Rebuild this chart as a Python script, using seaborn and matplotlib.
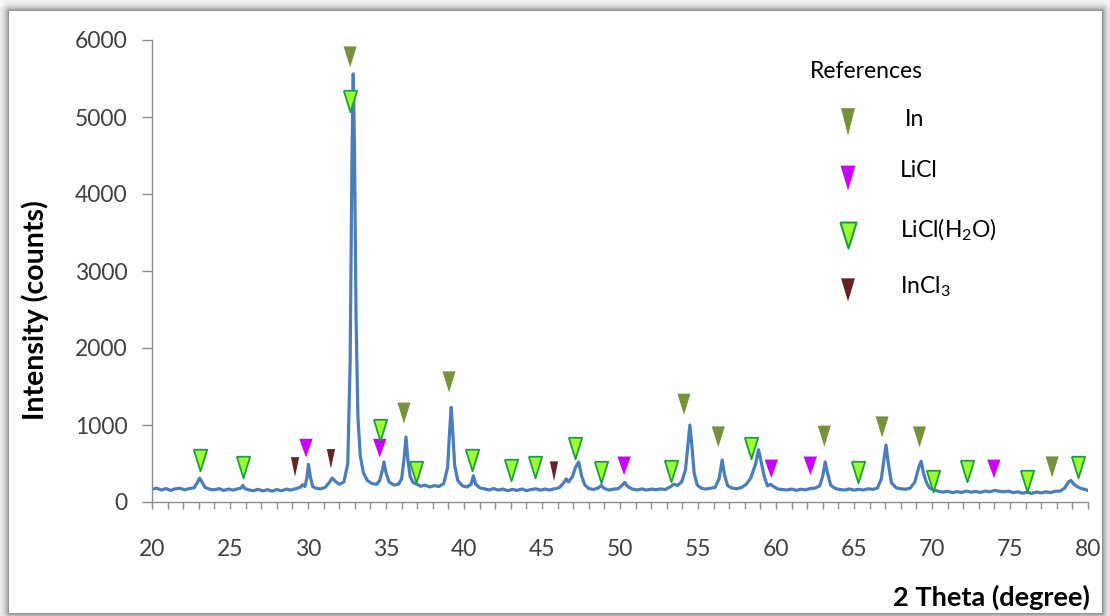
import numpy as np
import matplotlib
matplotlib.use("Agg")
import matplotlib.pyplot as plt
import seaborn as sns
from matplotlib.ticker import MultipleLocator

# ---------------- data ----------------
two_theta = [20.0, 20.3, 20.6, 20.9, 21.2, 21.5, 21.8, 22.1, 22.4, 22.7, 22.9, 23.05, 23.2, 23.4, 23.7,
             24.0, 24.3, 24.6, 24.9, 25.2, 25.5, 25.7, 25.82, 25.95, 26.2, 26.5, 26.8, 27.1, 27.4, 27.7,
             28.0, 28.3, 28.6, 28.9, 29.2, 29.5, 29.65, 29.8, 29.92, 30.03, 30.15, 30.3, 30.5, 30.8, 31.1,
             31.35, 31.55, 31.75, 32.0, 32.3, 32.55, 32.7, 32.82, 32.9, 32.98, 33.08, 33.2, 33.35, 33.55,
             33.8, 34.1, 34.4, 34.6, 34.75, 34.87, 35.0, 35.2, 35.5, 35.8, 36.0, 36.15, 36.28, 36.4, 36.55,
             36.75, 37.0, 37.2, 37.5, 37.8, 38.1, 38.4, 38.7, 38.95, 39.1, 39.18, 39.28, 39.4, 39.6, 39.9,
             40.2, 40.45, 40.6, 40.75, 41.0, 41.3, 41.6, 41.9, 42.2, 42.5, 42.8, 43.1, 43.4, 43.7, 44.0,
             44.3, 44.6, 44.9, 45.2, 45.5, 45.8, 46.1, 46.4, 46.55, 46.7, 46.95, 47.15, 47.35, 47.55, 47.75,
             48.0, 48.3, 48.6, 48.8, 49.0, 49.3, 49.6, 49.9, 50.15, 50.3, 50.5, 50.8, 51.1, 51.4, 51.7,
             52.0, 52.3, 52.6, 52.9, 53.2, 53.45, 53.7, 53.95, 54.2, 54.38, 54.48, 54.6, 54.75, 54.95, 55.2,
             55.5, 55.8, 56.1, 56.35, 56.55, 56.7, 56.9, 57.2, 57.5, 57.8, 58.1, 58.4, 58.7, 58.88, 59.05,
             59.25, 59.45, 59.65, 59.85, 60.1, 60.4, 60.7, 61.0, 61.3, 61.6, 61.9, 62.2, 62.5, 62.8, 63.0,
             63.15, 63.3, 63.5, 63.8, 64.1, 64.4, 64.7, 65.0, 65.3, 65.6, 65.9, 66.2, 66.5, 66.75, 66.95,
             67.05, 67.2, 67.4, 67.7, 68.0, 68.3, 68.6, 68.9, 69.15, 69.3, 69.45, 69.65, 69.85, 70.1, 70.4,
             70.7, 71.0, 71.3, 71.6, 71.9, 72.2, 72.5, 72.8, 73.1, 73.4, 73.7, 74.0, 74.3, 74.6, 74.9,
             75.2, 75.5, 75.8, 76.1, 76.4, 76.7, 77.0, 77.3, 77.6, 77.9, 78.2, 78.5, 78.75, 78.9, 79.1,
             79.3, 79.6, 79.8, 80.0]
intensity = [165, 180, 155, 175, 150, 172, 178, 158, 174, 185, 250, 310, 260, 190, 165,
             158, 174, 150, 168, 155, 172, 180, 215, 175, 158, 146, 165, 144, 160, 140,
             162, 146, 168, 155, 172, 190, 225, 200, 300, 490, 330, 200, 180, 170, 190,
             250, 310, 270, 230, 260, 500, 1800, 4500, 5560, 4600, 2400, 1100, 600, 380,
             280, 240, 230, 280, 400, 520, 380, 260, 220, 230, 300, 550, 845, 550, 330,
             250, 230, 205, 218, 196, 212, 202, 240, 450, 1000, 1230, 900, 480, 280, 210,
             195, 230, 340, 230, 185, 172, 156, 175, 154, 168, 146, 164, 150, 170, 148,
             162, 172, 154, 168, 156, 172, 185, 250, 300, 260, 330, 450, 520, 330, 220,
             175, 162, 182, 215, 175, 156, 168, 175, 220, 255, 200, 168, 156, 170, 154,
             168, 160, 170, 162, 195, 230, 215, 260, 420, 800, 1000, 750, 380, 220, 180,
             168, 178, 190, 300, 545, 350, 210, 180, 172, 190, 230, 320, 500, 680, 520,
             330, 210, 230, 200, 170, 162, 156, 168, 152, 166, 158, 175, 180, 210, 340,
             520, 380, 220, 175, 162, 156, 170, 154, 166, 156, 172, 164, 180, 300, 600,
             740, 500, 250, 185, 172, 166, 180, 260, 450, 530, 380, 250, 180, 160, 140,
             128, 140, 122, 134, 124, 142, 128, 136, 124, 142, 132, 150, 140, 132, 142,
             122, 132, 114, 126, 112, 130, 118, 132, 122, 140, 140, 180, 260, 280, 230,
             200, 172, 165, 150]

# reference-phase marker positions (2 theta, marker height in counts)
in_theta = [32.7, 36.15, 39.04, 54.1, 56.3, 63.1, 66.8, 69.2, 77.7]
in_level = [5780, 1155, 1560, 1270, 845, 855, 975, 845, 455]
licl_theta = [29.87, 34.6, 50.26, 59.7, 62.2, 73.97]
licl_level = [700, 700, 470, 430, 470, 430]
hydrate_theta = [23.08, 25.83, 32.7, 34.6, 36.92, 40.5, 43.0, 44.55, 47.1, 48.78, 53.27, 58.4,
                 65.26, 70.06, 72.24, 76.1, 79.36]
hydrate_level = [545, 455, 5210, 935, 390, 545, 415, 455, 700, 390, 400, 700,
                 390, 270, 400, 270, 455]
incl3_theta = [29.17, 31.47, 45.77]
incl3_level = [455, 560, 400]

legend_title = "References"
phase_labels = ["In", "LiCl", "LiCl(H$_2$O)", "InCl$_3$"]
x_label = "2 Theta (degree)"
y_label = "Intensity (counts)"

# ---------------- style ----------------
sns.set_style("white")
plt.rcParams["font.family"] = ["Lato", "DejaVu Sans"]
plt.rcParams["mathtext.default"] = "regular"

C_LINE = "#4A7EBB"
C_IN = "#76923C"
C_LICL = "#CC00FF"
C_HYD = "#99FF33"
C_HYD_EDGE = "#1E9E3A"
C_INCL3 = "#632523"
C_AXIS = "#8C8C8C"
C_TICKTXT = "#404040"


def tri(r):
    """downward triangle, width/height ratio r"""
    return [(-r / 2, 0.5), (r / 2, 0.5), (0.0, -0.5), (-r / 2, 0.5)]


W, H = 1110, 616
fig = plt.figure(figsize=(W / 100, H / 100), dpi=100)

# shadowed frame around the chart panel
yy, xx = np.mgrid[0:H, 0:W]
px0, px1, py0, py1 = 9, 1101, 11, 612
dx = np.maximum(np.maximum(px0 - xx, xx - px1), 0)
dy = np.maximum(np.maximum(py0 - yy, yy - py1), 0)
d = np.hypot(dx, dy)
g = np.where(d > 0, 1 - 0.42 * np.exp(-(d - 1) / 4.5), 1.0)
fig.figimage(np.dstack([g, g, g]), 0, 0, origin="upper", zorder=-10)

ax = fig.add_axes([152 / W, 114 / H, 936 / W, 462 / H])
ax.set_facecolor("none")

sns.lineplot(x=two_theta, y=intensity, ax=ax, color=C_LINE, linewidth=2.3,
             estimator=None, sort=False, zorder=2)

sns.scatterplot(x=in_theta, y=in_level, ax=ax, marker=tri(0.62), s=230,
                color=C_IN, edgecolor="none", zorder=4)
sns.scatterplot(x=licl_theta, y=licl_level, ax=ax, marker=tri(0.72), s=180,
                color=C_LICL, edgecolor="none", zorder=4)
sns.scatterplot(x=hydrate_theta, y=hydrate_level, ax=ax, marker=tri(0.62), s=240,
                color=C_HYD, edgecolor=C_HYD_EDGE, linewidth=1.3, zorder=4)
sns.scatterplot(x=incl3_theta, y=incl3_level, ax=ax, marker=tri(0.42), s=200,
                color=C_INCL3, edgecolor="none", zorder=4)

ax.set_xlim(20, 80)
ax.set_ylim(0, 6000)
ax.xaxis.set_major_locator(MultipleLocator(5))
ax.xaxis.set_minor_locator(MultipleLocator(1))
ax.yaxis.set_major_locator(MultipleLocator(1000))

for side in ["top", "right"]:
    ax.spines[side].set_visible(False)
for side in ["left", "bottom"]:
    ax.spines[side].set_color(C_AXIS)
    ax.spines[side].set_linewidth(1.0)

ax.tick_params(axis="x", which="both", direction="out", length=5, width=1,
               color=C_AXIS, bottom=True, pad=22, labelsize=16.5, labelcolor=C_TICKTXT)
ax.tick_params(axis="y", which="major", direction="out", length=7.2, width=1,
               color=C_AXIS, left=True, pad=10.5, labelsize=16.5, labelcolor=C_TICKTXT)

ax.set_ylabel(y_label, fontsize=20.5, fontweight="bold", color="black", va="center")
ax.yaxis.set_label_coords(-0.125, 0.415)
ax.set_xlabel(x_label, fontsize=19.5, fontweight="bold", color="black",
              ha="right", va="center")
ax.xaxis.set_label_coords(1.002, -0.2056)

# legend block (manual, as in the reference)
ax.text(0.703, 0.931, legend_title, transform=ax.transAxes, fontsize=16.5,
        ha="left", va="center", color="black")
leg_y_marker = [0.8225, 0.7013, 0.578, 0.459]
leg_y_text = [0.827, 0.7186, 0.589, 0.465]
leg_x_text = [0.8045, 0.799, 0.799, 0.799]
leg_style = [dict(marker=tri(0.5), s=400, c=C_IN, edgecolors="none"),
             dict(marker=tri(0.6), s=320, c=C_LICL, edgecolors="none"),
             dict(marker=tri(0.62), s=350, c=C_HYD, edgecolors=C_HYD_EDGE, linewidths=1.5),
             dict(marker=tri(0.6), s=280, c=C_INCL3, edgecolors="none")]
for lab, ym, yt, xt, st in zip(phase_labels, leg_y_marker, leg_y_text, leg_x_text, leg_style):
    ax.scatter([0.7436], [ym], transform=ax.transAxes, clip_on=False, zorder=5, **st)
    ax.text(xt, yt, lab, transform=ax.transAxes, fontsize=16.5, ha="left",
            va="center", color="black")

fig.savefig("out.png", dpi=100)
